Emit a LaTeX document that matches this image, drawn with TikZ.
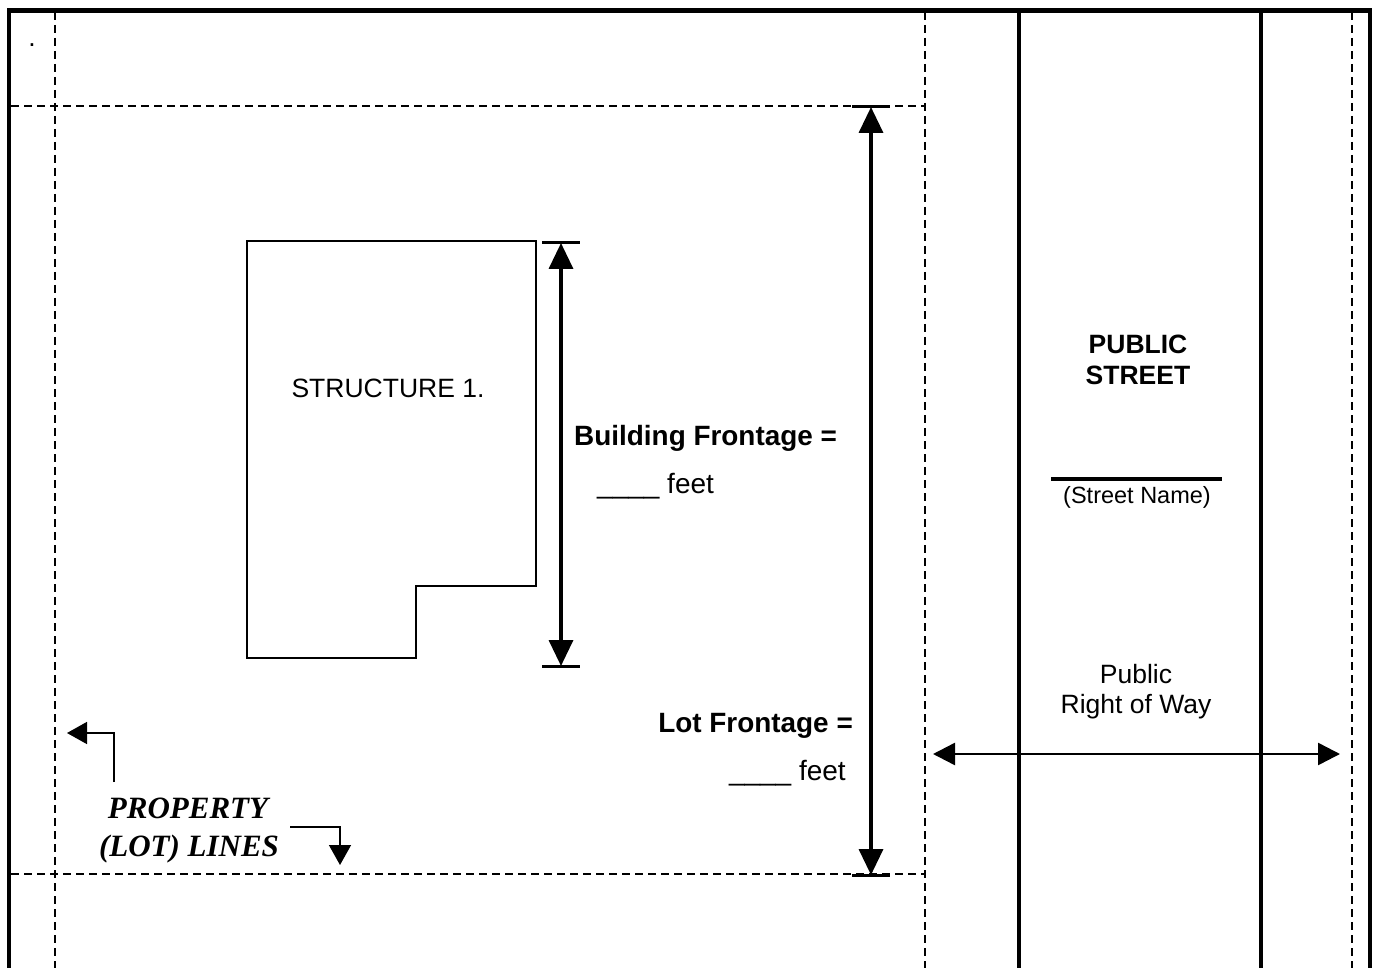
\documentclass[tikz,border=0pt]{standalone}
\usepackage{fontspec}
\setmainfont{Liberation Sans}
\newfontfamily\lotfont{Liberation Serif}
\usetikzlibrary{arrows.meta}

\tikzset{
    lotline/.style={line width=1.5pt, dash pattern=on 8pt off 5pt},
    street/.style={line width=3.5pt},
    dimline/.style={line width=3.5pt, {Triangle[length=26pt,width=24pt]}-{Triangle[length=26pt,width=24pt]}},
    dimcap/.style={line width=3pt},
    lbl/.style={inner sep=0pt, font=\fontsize{26.5}{31}\selectfont, align=center},
    bold/.style={lbl, font=\fontsize{27.9}{31}\selectfont\bfseries},
    feet/.style={lbl, font=\fontsize{28}{31}\selectfont},
}

\begin{document}
\begin{tikzpicture}[x=1pt,y=-1pt]
    \useasboundingbox (0,0) rectangle (1379,968);

    % outer frame, open at the bottom
    \draw[line width=4.5pt] (9,990) -- (9,10.5) -- (1370,10.5) -- (1370,990);

    % property lines
    \draw[lotline] (55,12) -- (55,990);
    \draw[lotline] (925,12) -- (925,990);
    \draw[lotline] (1352,12) -- (1352,990);
    \draw[lotline] (11,106) -- (925,106);
    \draw[lotline] (11,874) -- (925,874);

    % street edges
    \draw[street] (1019,12) -- (1019,990);
    \draw[street] (1261,12) -- (1261,990);

    \node[lbl, anchor=base] (dot) at (32,47) {.};

    % structure
    \draw[line width=1.5pt] (247,241) -- (536,241) -- (536,586) -- (416,586)
        -- (416,658) -- (247,658) -- cycle;
    \node[lbl, anchor=base] (struct) at (388,397) {STRUCTURE 1.};

    % building frontage
    \coordinate (BT) at (561,243);
    \coordinate (BB) at (561,666);
    \draw[dimcap] (542,243) -- (580,243);
    \draw[dimcap] (542,666) -- (580,666);
    \draw[dimline] (BT) -- (BB);
    \node[bold, anchor=base west] (bfront) at (574,445) {Building Frontage =};
    \node[feet, anchor=base west] (bfeet) at (597,493) {\_\_\_\_ feet};

    % lot frontage
    \coordinate (LT) at (871,107);
    \coordinate (LB) at (871,875);
    \draw[dimcap] (852,107) -- (890,107);
    \draw[dimcap] (852,875) -- (890,875);
    \draw[dimline] (LT) -- (LB);
    \node[bold, anchor=base east] (lfront) at (853,732) {Lot Frontage =};
    \node[feet, anchor=base east] (lfeet) at (846,780) {\_\_\_\_ feet};

    % street
    \node[lbl, anchor=base, font=\fontsize{26.5}{31}\selectfont\bfseries] (pub) at (1138,353) {PUBLIC};
    \node[lbl, anchor=base, font=\fontsize{26.5}{31}\selectfont\bfseries] (str) at (1138,384) {STREET};
    \draw[street] (1051,479) -- (1222,479);
    \node[lbl, anchor=base, font=\fontsize{23.5}{28}\selectfont] (sname) at (1137,503) {(Street Name)};
    \node[lbl, anchor=base] (row1) at (1136,683) {Public};
    \node[lbl, anchor=base] (row2) at (1136,713) {Right of Way};
    \coordinate (RW) at (933,754);
    \coordinate (RE) at (1340,754);
    \draw[line width=2.5pt, {Triangle[length=22pt,width=22pt]}-{Triangle[length=22pt,width=22pt]}] (RW) -- (RE);

    % lot line labels
    \node[lbl, anchor=base, font=\fontsize{31}{37}\lotfont\bfseries\itshape] (prop) at (188,818) {PROPERTY};
    \node[lbl, anchor=base, font=\fontsize{31}{37}\lotfont\bfseries\itshape] (lines) at (189,856) {(LOT) LINES};
    \coordinate (P1) at (114,782);
    \coordinate (P1e) at (67,733);
    \coordinate (P2) at (290,827);
    \coordinate (P2e) at (340,865);
    \draw[line width=1.5pt, -{Triangle[length=20pt,width=22pt]}] (P1) |- (P1e);
    \draw[line width=1.5pt, -{Triangle[length=20pt,width=22pt]}] (P2) -| (P2e);
\end{tikzpicture}
\end{document}
